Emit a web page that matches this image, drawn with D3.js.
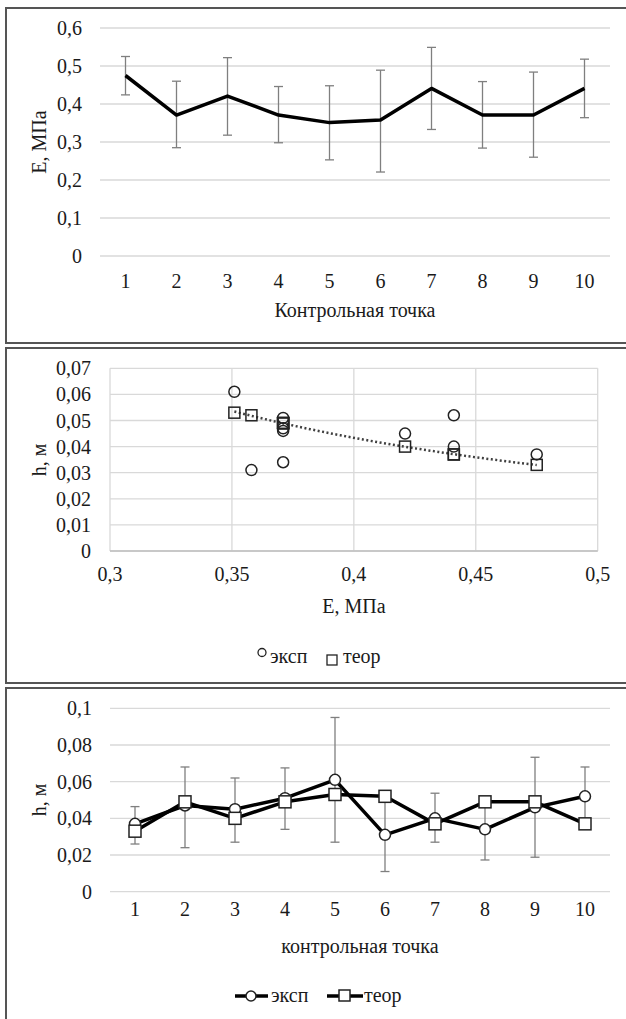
<!DOCTYPE html>
<html>
<head>
<meta charset="utf-8">
<script src="https://cdn.jsdelivr.net/npm/d3@7"></script>
<style>
  body { margin: 0; background: #fff; }
  svg text { font-family: "Liberation Serif", "Times New Roman", serif; fill: #1a1a1a; }
</style>
</head>
<body>
<div id="chart"></div>
<script>
// control points
var points = [1, 2, 3, 4, 5, 6, 7, 8, 9, 10];
// modulus E, MPa, with error bar bounds
var eMean = [0.475, 0.371, 0.421, 0.371, 0.351, 0.358, 0.441, 0.371, 0.371, 0.441];
var eLow  = [0.424, 0.285, 0.318, 0.298, 0.253, 0.221, 0.333, 0.284, 0.260, 0.364];
var eHigh = [0.525, 0.460, 0.522, 0.446, 0.448, 0.489, 0.549, 0.459, 0.484, 0.518];
// h, m : experimental with error bounds, theoretical
var hExp     = [0.037, 0.047, 0.045, 0.051, 0.061, 0.031, 0.040, 0.034, 0.046, 0.052];
var hExpLow  = [0.026, 0.024, 0.027, 0.034, 0.027, 0.011, 0.027, 0.0173, 0.0188, 0.036];
var hExpHigh = [0.0464, 0.068, 0.062, 0.0675, 0.095, 0.051, 0.0537, 0.051, 0.0733, 0.068];
var hTeor    = [0.033, 0.049, 0.040, 0.049, 0.053, 0.052, 0.037, 0.049, 0.049, 0.037];
var seriesNames = ["эксп", "теор"];

var eTicks = [0, 0.1, 0.2, 0.3, 0.4, 0.5, 0.6];
var hTicks2 = [0, 0.01, 0.02, 0.03, 0.04, 0.05, 0.06, 0.07];
var eTicks2 = [0.3, 0.35, 0.4, 0.45, 0.5];
var hTicks3 = [0, 0.02, 0.04, 0.06, 0.08, 0.1];

var fmt = function(d) { return String(+d.toFixed(3)).replace(".", ","); };
var grid = "#d9d9d9", barCol = "#7f7f7f", fs = "20px";

var svg = d3.select("#chart").append("svg")
    .attr("width", 626)
    .attr("height", 1019);

// frames
[[8, 335], [348, 335], [688, 345]].forEach(function(f) {
  svg.append("rect")
      .attr("x", 6).attr("y", f[0])
      .attr("width", 640).attr("height", f[1])
      .attr("fill", "none")
      .attr("stroke", "#555")
      .attr("stroke-width", 2);
});

function yTickLabels(g, y, ticks, right) {
  g.selectAll(".yl").data(ticks).enter().append("text")
      .attr("x", right)
      .attr("y", function(d) { return y(d); })
      .attr("dy", "0.35em")
      .attr("text-anchor", "end")
      .style("font-size", fs)
      .text(fmt);
}

function hGrid(g, y, ticks, x0, x1) {
  g.selectAll(".hg").data(ticks).enter().append("line")
      .attr("x1", x0).attr("x2", x1)
      .attr("y1", function(d) { return y(d); })
      .attr("y2", function(d) { return y(d); })
      .attr("stroke", grid).attr("stroke-width", 1.3);
}

function errorBars(g, x, y, lo, hi, cap) {
  var eb = g.selectAll(".eb").data(points).enter().append("g")
      .attr("stroke", barCol).attr("stroke-width", 1.3);
  eb.append("line")
      .attr("x1", function(d) { return x(d); }).attr("x2", function(d) { return x(d); })
      .attr("y1", function(d, i) { return y(lo[i]); })
      .attr("y2", function(d, i) { return y(hi[i]); });
  [lo, hi].forEach(function(arr) {
    eb.append("line")
        .attr("x1", function(d) { return x(d) - cap; }).attr("x2", function(d) { return x(d) + cap; })
        .attr("y1", function(d, i) { return y(arr[i]); })
        .attr("y2", function(d, i) { return y(arr[i]); });
  });
}

function yTitle(g, x, y, txt) {
  g.append("text")
      .attr("transform", "translate(" + x + "," + y + ") rotate(-90)")
      .attr("text-anchor", "middle")
      .style("font-size", fs)
      .text(txt);
}

// ---------- panel 1 : E by control point ----------
var p1 = svg.append("g");
var x1 = d3.scaleBand().domain(points).range([100, 610]);
var cx1 = function(d) { return x1(d) + x1.bandwidth() / 2; };
var y1 = d3.scaleLinear().domain([0, 0.6]).range([256, 28]);

hGrid(p1, y1, eTicks, 100, 610);
yTickLabels(p1, y1, eTicks, 82);
p1.selectAll(".xl").data(points).enter().append("text")
    .attr("x", cx1).attr("y", 288)
    .attr("text-anchor", "middle")
    .style("font-size", fs)
    .text(function(d) { return d; });
p1.append("text").attr("x", 355).attr("y", 317)
    .attr("text-anchor", "middle").style("font-size", fs)
    .text("Контрольная точка");
yTitle(p1, 46, 142, "E, МПа");

errorBars(p1, cx1, y1, eLow, eHigh, 4.5);

p1.append("path")
    .datum(points)
    .attr("fill", "none")
    .attr("stroke", "#000")
    .attr("stroke-width", 3.5)
    .attr("stroke-linejoin", "round")
    .attr("d", d3.line().x(cx1).y(function(d, i) { return y1(eMean[i]); }));

// ---------- panel 2 : h vs E scatter ----------
var p2 = svg.append("g");
var x2 = d3.scaleLinear().domain([0.3, 0.5]).range([110, 597.7]);
var y2 = d3.scaleLinear().domain([0, 0.07]).range([551, 368.3]);

hGrid(p2, y2, hTicks2, 110, 597.7);
p2.selectAll(".vg").data(eTicks2).enter().append("line")
    .attr("x1", function(d) { return x2(d); }).attr("x2", function(d) { return x2(d); })
    .attr("y1", y2(0)).attr("y2", y2(0.07))
    .attr("stroke", grid).attr("stroke-width", 1.3);
p2.append("line").attr("x1", 110).attr("x2", 597.7)
    .attr("y1", y2(0)).attr("y2", y2(0))
    .attr("stroke", "#bfbfbf").attr("stroke-width", 1.3);
yTickLabels(p2, y2, hTicks2, 91);
p2.selectAll(".xl").data(eTicks2).enter().append("text")
    .attr("x", function(d) { return x2(d); }).attr("y", 581)
    .attr("text-anchor", "middle")
    .style("font-size", fs)
    .text(fmt);
p2.append("text").attr("x", 354).attr("y", 613)
    .attr("text-anchor", "middle").style("font-size", fs)
    .text("E, МПа");
yTitle(p2, 46, 460, "h, м");

// power trend line through theoretical points (least squares in log space)
var lx = eMean.map(Math.log), ly = hTeor.map(Math.log);
var mx = d3.mean(lx), my = d3.mean(ly);
var b = d3.sum(lx, function(v, i) { return (v - mx) * (ly[i] - my); }) /
        d3.sum(lx, function(v) { return (v - mx) * (v - mx); });
var a = Math.exp(my - b * mx);
var ex = d3.extent(eMean);
var trend = d3.range(0, 41).map(function(k) { return ex[0] + (ex[1] - ex[0]) * k / 40; });
p2.append("path")
    .datum(trend)
    .attr("fill", "none")
    .attr("stroke", "#404040")
    .attr("stroke-width", 2.5)
    .attr("stroke-dasharray", "2,2.5")
    .attr("d", d3.line().x(function(d) { return x2(d); }).y(function(d) { return y2(a * Math.pow(d, b)); }));

p2.selectAll(".ce").data(points).enter().append("circle")
    .attr("cx", function(d, i) { return x2(eMean[i]); })
    .attr("cy", function(d, i) { return y2(hExp[i]); })
    .attr("r", 5.5)
    .attr("fill", "none").attr("stroke", "#222").attr("stroke-width", 1.5);
p2.selectAll(".st").data(points).enter().append("rect")
    .attr("x", function(d, i) { return x2(eMean[i]) - 5.5; })
    .attr("y", function(d, i) { return y2(hTeor[i]) - 5.5; })
    .attr("width", 11).attr("height", 11)
    .attr("fill", "none").attr("stroke", "#222").attr("stroke-width", 1.5);

// legend
p2.append("circle").attr("cx", 262).attr("cy", 652.5).attr("r", 4)
    .attr("fill", "none").attr("stroke", "#222").attr("stroke-width", 1.3);
p2.append("text").attr("x", 270).attr("y", 663).style("font-size", fs).text(seriesNames[0]);
p2.append("rect").attr("x", 327).attr("y", 655).attr("width", 10).attr("height", 10)
    .attr("fill", "none").attr("stroke", "#222").attr("stroke-width", 1.3);
p2.append("text").attr("x", 343).attr("y", 663).style("font-size", fs).text(seriesNames[1]);

// ---------- panel 3 : h by control point ----------
var p3 = svg.append("g");
var x3 = d3.scaleBand().domain(points).range([110, 610]);
var cx3 = function(d) { return x3(d) + x3.bandwidth() / 2; };
var y3 = d3.scaleLinear().domain([0, 0.1]).range([891.7, 708.3]);

hGrid(p3, y3, hTicks3, 110, 610);
yTickLabels(p3, y3, hTicks3, 92);
p3.selectAll(".xl").data(points).enter().append("text")
    .attr("x", cx3).attr("y", 916)
    .attr("text-anchor", "middle")
    .style("font-size", fs)
    .text(function(d) { return d; });
p3.append("text").attr("x", 360).attr("y", 953)
    .attr("text-anchor", "middle").style("font-size", fs)
    .text("контрольная точка");
yTitle(p3, 46, 800, "h, м");

errorBars(p3, cx3, y3, hExpLow, hExpHigh, 4.5);

[hExp, hTeor].forEach(function(vals, s) {
  p3.append("path")
      .datum(points)
      .attr("fill", "none")
      .attr("stroke", "#000")
      .attr("stroke-width", 3.5)
      .attr("stroke-linejoin", "round")
      .attr("d", d3.line().x(cx3).y(function(d, i) { return y3(vals[i]); }));
  if (s === 0) {
    p3.selectAll(".m0").data(points).enter().append("circle")
        .attr("cx", cx3).attr("cy", function(d, i) { return y3(vals[i]); })
        .attr("r", 5.5)
        .attr("fill", "#fff").attr("stroke", "#222").attr("stroke-width", 1.5);
  } else {
    p3.selectAll(".m1").data(points).enter().append("rect")
        .attr("x", function(d) { return cx3(d) - 6; })
        .attr("y", function(d, i) { return y3(vals[i]) - 6; })
        .attr("width", 12).attr("height", 12)
        .attr("fill", "#fff").attr("stroke", "#222").attr("stroke-width", 1.5);
  }
});

// legend
p3.append("line").attr("x1", 235).attr("x2", 268).attr("y1", 996).attr("y2", 996)
    .attr("stroke", "#000").attr("stroke-width", 3.5);
p3.append("circle").attr("cx", 251).attr("cy", 996).attr("r", 5)
    .attr("fill", "#fff").attr("stroke", "#222").attr("stroke-width", 1.5);
p3.append("text").attr("x", 271).attr("y", 1002).style("font-size", fs).text(seriesNames[0]);
p3.append("line").attr("x1", 327).attr("x2", 363).attr("y1", 996).attr("y2", 996)
    .attr("stroke", "#000").attr("stroke-width", 3.5);
p3.append("rect").attr("x", 339).attr("y", 990).attr("width", 11).attr("height", 11)
    .attr("fill", "#fff").attr("stroke", "#222").attr("stroke-width", 1.5);
p3.append("text").attr("x", 364).attr("y", 1002).style("font-size", fs).text(seriesNames[1]);
</script>
</body>
</html>
